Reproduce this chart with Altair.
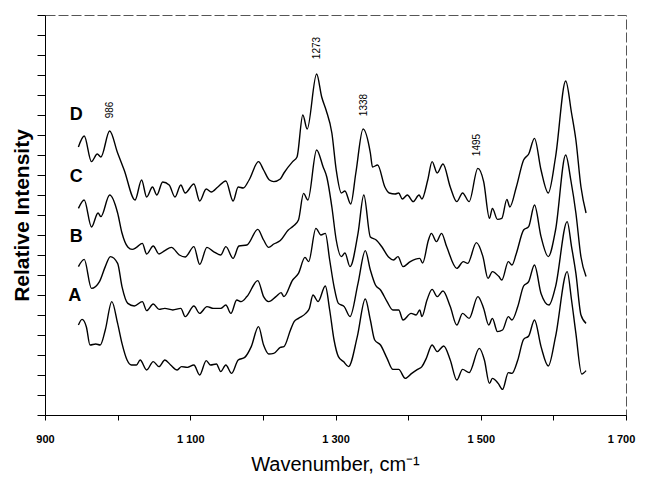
import altair as alt
import pandas as pd

# ---- spectra (wavenumber, relative intensity in tick units, stacked) ----
d_wn = [946, 954, 964, 972, 977, 989, 1000, 1009, 1024, 1033, 1040, 1048, 1054, 1062, 1071,
        1079, 1087, 1093, 1105, 1113, 1122, 1129, 1138, 1149, 1159, 1166, 1173, 1181, 1194,
        1201, 1209, 1215, 1224, 1229, 1241, 1247, 1255, 1261, 1274, 1281, 1287, 1295, 1301,
        1308, 1313, 1321, 1328, 1338, 1348, 1351, 1358, 1368, 1374, 1382, 1387, 1392, 1399,
        1407, 1415, 1419, 1427, 1433, 1440, 1448, 1458, 1467, 1475, 1484, 1496, 1504, 1512,
        1516, 1523, 1529, 1536, 1540, 1549, 1559, 1566, 1574, 1583, 1593, 1603, 1617, 1625,
        1631, 1638, 1645]
d_int = [13.4, 13.95, 12.67, 13.05, 12.9, 14.2, 13.1, 12.25, 10.75, 11.75, 10.9, 11.4, 11.0,
         11.65, 11.5, 10.9, 11.5, 11.1, 11.55, 10.7, 11.3, 11.15, 11.4, 11.7, 10.7, 11.4, 11.35,
         11.75, 12.67, 12.25, 11.75, 11.67, 11.8, 12.1, 12.67, 12.9, 15.0, 14.3, 17.05, 15.9,
         15.25, 14.1, 12.25, 11.1, 11.2, 10.55, 12.1, 14.3, 13.1, 12.4, 12.5, 11.4, 11.1, 11.05,
         11.1, 10.8, 11.0, 10.67, 11.0, 10.8, 11.75, 12.67, 12.1, 12.55, 11.4, 10.67, 11.1,
         10.67, 12.33, 11.67, 9.83, 10.33, 9.78, 9.83, 10.78, 10.4, 11.4, 12.75, 13.05, 13.83,
         12.25, 11.1, 12.9, 16.7, 15.1, 13.75, 11.4, 10.1]

c_wn = [946, 954, 964, 973, 977, 989, 1000, 1006, 1014, 1020, 1026, 1034, 1040, 1049, 1057,
        1065, 1074, 1085, 1093, 1105, 1113, 1123, 1132, 1142, 1149, 1159, 1167, 1178, 1193,
        1201, 1208, 1215, 1224, 1235, 1242, 1249, 1256, 1262, 1274, 1283, 1288, 1295, 1301,
        1308, 1313, 1320, 1331, 1339, 1348, 1356, 1364, 1373, 1380, 1386, 1393, 1403, 1416,
        1420, 1428, 1432, 1439, 1446, 1453, 1467, 1476, 1482, 1494, 1503, 1510, 1516, 1525,
        1529, 1538, 1543, 1549, 1559, 1566, 1574, 1583, 1593, 1603, 1617, 1624, 1631, 1638,
        1645]
c_int = [10.33, 10.75, 9.4, 10.1, 9.92, 11.0, 10.1, 9.1, 8.4, 8.28, 8.38, 8.58, 8.05, 8.45,
         8.05, 8.22, 8.38, 8.0, 7.9, 8.42, 7.53, 8.38, 8.17, 8.0, 8.42, 7.83, 8.45, 8.5, 9.28,
         8.75, 8.38, 8.55, 8.72, 9.25, 9.45, 9.75, 11.08, 10.75, 13.25, 12.4, 11.9, 10.4, 8.75,
         7.92, 8.1, 7.42, 9.08, 11.0, 8.9, 8.75, 8.4, 7.9, 7.75, 7.92, 7.42, 7.67, 7.83, 7.6,
         8.75, 9.08, 8.67, 9.08, 8.42, 7.33, 7.67, 7.58, 8.62, 7.92, 6.83, 7.17, 6.92, 6.75,
         7.67, 7.5, 8.08, 9.25, 9.42, 10.5, 8.92, 7.92, 9.25, 13.0, 11.75, 10.1, 7.9, 6.92]

b_wn = [946, 954, 964, 975, 983, 990, 1000, 1006, 1014, 1023, 1034, 1040, 1049, 1057, 1065,
        1076, 1087, 1093, 1105, 1113, 1123, 1132, 1142, 1149, 1156, 1164, 1170, 1178, 1193,
        1201, 1208, 1218, 1225, 1229, 1241, 1249, 1258, 1263, 1273, 1280, 1286, 1292, 1298,
        1304, 1312, 1320, 1331, 1341, 1348, 1355, 1362, 1371, 1379, 1387, 1393, 1404, 1411,
        1416, 1419, 1426, 1433, 1440, 1448, 1458, 1467, 1475, 1484, 1496, 1504, 1511, 1516,
        1523, 1530, 1538, 1543, 1551, 1559, 1566, 1574, 1583, 1594, 1603, 1619, 1625, 1631,
        1638, 1645]
b_int = [7.42, 7.78, 6.33, 6.67, 7.42, 7.92, 7.58, 6.42, 5.58, 5.45, 5.67, 5.22, 5.55, 5.28,
         5.33, 5.25, 5.33, 4.92, 5.45, 5.08, 5.42, 5.33, 5.33, 5.5, 5.08, 5.75, 5.67, 5.92,
         6.72, 5.92, 5.67, 5.92, 6.12, 5.92, 6.75, 7.08, 7.88, 7.67, 9.33, 9.0, 9.08, 7.75,
         6.42, 5.58, 5.42, 4.92, 6.58, 8.22, 7.25, 6.5, 6.25, 5.67, 5.25, 5.25, 4.75, 5.08,
         5.0, 5.25, 4.92, 5.75, 6.28, 5.92, 6.2, 5.42, 4.5, 5.08, 4.83, 5.92, 5.33, 4.5, 4.83,
         4.17, 4.25, 4.92, 4.75, 5.42, 6.45, 6.67, 7.5, 6.08, 5.5, 6.42, 9.67, 8.42, 7.08, 5.0,
         4.58]

a_wn = [946, 951, 957, 962, 970, 976, 983, 992, 1000, 1006, 1013, 1019, 1026, 1031, 1040,
        1049, 1057, 1065, 1073, 1082, 1088, 1096, 1105, 1113, 1122, 1128, 1136, 1142, 1149,
        1157, 1166, 1175, 1184, 1194, 1201, 1208, 1215, 1224, 1229, 1238, 1243, 1249, 1259,
        1264, 1269, 1276, 1286, 1292, 1298, 1304, 1311, 1318, 1330, 1341, 1348, 1354, 1362,
        1371, 1379, 1387, 1396, 1405, 1413, 1419, 1425, 1433, 1440, 1449, 1458, 1467, 1475,
        1484, 1498, 1505, 1512, 1516, 1524, 1530, 1538, 1543, 1551, 1559, 1566, 1574, 1583,
        1593, 1603, 1619, 1625, 1631, 1639, 1645]
a_int = [4.5, 4.78, 4.4, 3.5, 3.55, 3.5, 4.25, 5.67, 4.58, 3.58, 2.75, 2.5, 2.5, 2.75, 2.25,
         2.67, 2.42, 2.75, 2.5, 2.25, 2.42, 2.38, 2.5, 2.0, 2.72, 2.5, 2.55, 2.17, 2.5, 2.08,
         2.75, 2.88, 3.42, 4.42, 3.5, 3.05, 3.08, 3.38, 3.42, 4.25, 4.67, 4.83, 5.08, 5.33,
         6.0, 5.67, 6.45, 5.25, 3.75, 2.92, 2.67, 2.42, 3.92, 5.8, 4.75, 3.75, 3.5, 2.83, 2.28,
         2.28, 1.83, 2.08, 2.28, 2.42, 2.83, 3.5, 3.17, 3.45, 2.75, 1.75, 2.28, 2.12, 3.33,
         2.75, 1.58, 1.83, 1.58, 1.28, 2.12, 2.08, 2.75, 3.78, 3.95, 4.75, 3.42, 2.45, 3.92,
         7.17, 5.75, 4.08, 2.05, 2.22]

# ---- trace letters ----
letter_text = ["D", "C", "B", "A"]
letter_wn = [943, 943, 943, 941]
letter_val = [15.0, 11.9, 8.9, 5.95]

# ---- peak annotations ----
peak_text = ["986", "1273", "1338", "1495"]
peak_wn = [989, 1274, 1339, 1495]
peak_val = [15.25, 18.35, 15.5, 13.5]

# ---- axis ticks ----
x_ticks = [900, 1000, 1100, 1200, 1300, 1400, 1500, 1600, 1700]
y_ticks = list(range(0, 21))

rows = []
for name, wn, iv in [("D", d_wn, d_int), ("C", c_wn, c_int), ("B", b_wn, b_int), ("A", a_wn, a_int)]:
    for w, v in zip(wn, iv):
        rows.append({"trace": name, "wn": w, "val": v})
spectra = pd.DataFrame(rows)
letters = pd.DataFrame({"label": letter_text, "wn": letter_wn, "val": letter_val})
peaks = pd.DataFrame({"label": peak_text, "wn": peak_wn, "val": peak_val})

FONT = "Liberation Sans"
x_scale = alt.Scale(domain=[900, 1700], nice=False, zero=False)
y_scale = alt.Scale(domain=[0, 20], nice=False, zero=False)

x_axis = alt.Axis(
    values=x_ticks,
    labelExpr="datum.value % 200 == 0 ? '' : (datum.value < 1000 ? '' + datum.value : '1 ' + format(datum.value - 1000, '03d'))",
    labelOverlap=False, labelFlush=False,
    labelOffset={"condition": {"test": "datum.value == 1700", "value": -5}, "value": 0},
    labelFont=FONT, labelFontSize=11, labelFontWeight="bold", labelColor="black",
    labelPadding=13, tickSize=5, tickColor="black", domainColor="black",
    grid=False,
    title="Wavenumber, cm\u207b\u00b9", titleFont=FONT, titleFontSize=20,
    titleFontWeight="normal", titleColor="black",
    titleX=290, titleY=49, titleAlign="center", titleBaseline="middle",
)
y_axis = alt.Axis(
    values=y_ticks, labels=False, tickSize=8, tickColor="black",
    domainColor="black", grid=False,
    title="Relative Intensity", titleFont=FONT, titleFontSize=21, titleFontWeight="bold",
    titleColor="black", titleAngle=270, titleX=-23, titleY=200,
    titleAlign="center", titleBaseline="middle",
)

X = alt.X("wn:Q", scale=x_scale, axis=x_axis)
Y = alt.Y("val:Q", scale=y_scale, axis=y_axis)

lines = alt.Chart(spectra).mark_line(
    color="black", strokeWidth=1.4, interpolate="monotone"
).encode(x=X, y=Y, detail="trace:N")

letter_marks = alt.Chart(letters).mark_text(
    font=FONT, fontSize=18, fontWeight="bold", color="black", align="center", baseline="middle"
).encode(x=X, y=Y, text="label:N")

peak_marks = alt.Chart(peaks).mark_text(
    font=FONT, fontSize=10, color="black", angle=270, align="center", baseline="middle"
).encode(x=X, y=Y, text="label:N")

chart = alt.layer(lines, letter_marks, peak_marks).properties(
    width=581, height=400,
    autosize=alt.AutoSizeParams(type="none"),
    padding={"left": 37, "top": 7, "right": 11, "bottom": 59},
    background="white",
).configure_view(
    stroke="#555555", strokeDash=[10, 3], strokeWidth=1
)

chart.save("out.html", embed_options={"renderer": "svg", "actions": False})
